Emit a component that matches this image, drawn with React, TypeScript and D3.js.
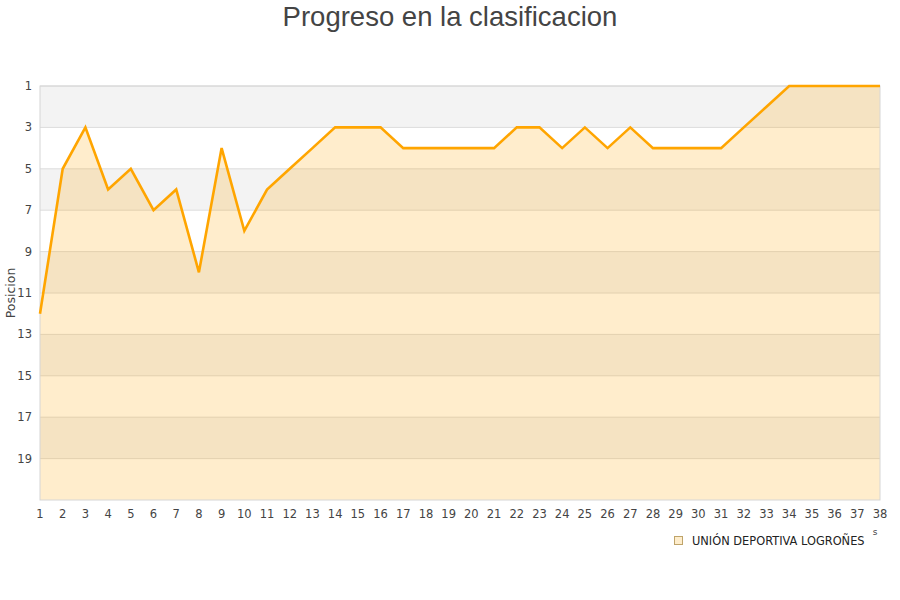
import { useMemo } from 'react';
import * as d3 from 'd3';

const rounds = d3.range(1, 39);
const positions = [
  12, 5, 3, 6, 5, 7, 6, 10, 4, 8, 6, 5, 4, 3, 3, 3, 4, 4, 4, 4, 4, 3, 3, 4, 3, 4, 3, 4, 4, 4, 4, 3, 2, 1, 1,
  1, 1, 1,
];
const yTicks = [1, 3, 5, 7, 9, 11, 13, 15, 17, 19];
const bandStarts = [1, 5, 9, 13, 17];
const teamName = 'UNIÓN DEPORTIVA LOGROÑES';
const title = 'Progreso en la clasificacion';

const width = 900;
const height = 600;
const margin = { top: 86, right: 20, bottom: 100, left: 40 };
const font = 'DejaVu Sans, sans-serif';

export default function App() {
  const x = useMemo(
    () => d3.scaleLinear().domain([1, 38]).range([margin.left, width - margin.right]),
    [],
  );
  const y = useMemo(
    () => d3.scaleLinear().domain([1, 21]).range([margin.top, height - margin.bottom]),
    [],
  );

  const pts = rounds.map((r, i) => [r, positions[i]] as [number, number]);
  const line = d3
    .line<[number, number]>()
    .x((d) => x(d[0]))
    .y((d) => y(d[1]));
  const area = d3
    .area<[number, number]>()
    .x((d) => x(d[0]))
    .y0(y(21))
    .y1((d) => y(d[1]));

  const [x0, x1] = x.range();
  const [y0, y1] = y.range();

  return (
    <svg
      width={width}
      height={height}
      style={{ position: 'absolute', left: 0, top: 0, background: '#fff' }}
    >
      <text
        x={width / 2}
        y={26}
        textAnchor="middle"
        fontFamily="Liberation Sans, Arial, sans-serif"
        fontSize={27.5}
        fill="#444"
      >
        {title}
      </text>

      {/* alternating bands */}
      {bandStarts.map((b) => (
        <rect key={b} x={x0} y={y(b)} width={x1 - x0} height={y(b + 2) - y(b)} fill="#f3f3f3" />
      ))}

      {/* grid */}
      {yTicks.map((t) => (
        <line key={t} x1={x0} x2={x1} y1={y(t)} y2={y(t)} stroke="#dcdcdc" strokeWidth={1} />
      ))}

      <path d={area(pts) ?? ''} fill="#ffa500" fillOpacity={0.2} />

      {/* frame */}
      <rect x={x0} y={y0} width={x1 - x0} height={y1 - y0} fill="none" stroke="#d6d6d6" />

      <path d={line(pts) ?? ''} fill="none" stroke="#ffa500" strokeWidth={2.6} strokeLinejoin="miter" />

      {yTicks.map((t) => (
        <text key={t} x={32} y={y(t) + 4} textAnchor="end" fontFamily={font} fontSize={11.5} fill="#444">
          {t}
        </text>
      ))}

      {rounds.map((r) => (
        <text key={r} x={x(r)} y={518} textAnchor="middle" fontFamily={font} fontSize={11.5} fill="#444">
          {r}
        </text>
      ))}

      <text
        transform={`translate(15,293) rotate(-90)`}
        textAnchor="middle"
        fontFamily={font}
        fontSize={12.5}
        fill="#444"
      >
        Posicion
      </text>

      <text x={875} y={535} textAnchor="middle" fontFamily={font} fontSize={9} fill="#444">
        s
      </text>

      <g transform="translate(674,536)">
        <rect x={0.5} y={0.5} width={8} height={8} fill="#feedcc" stroke="#bfa46a" strokeWidth={1} />
        <text x={18} y={8.5} fontFamily={font} fontSize={11.4} fill="#222">
          {teamName}
        </text>
      </g>
    </svg>
  );
}
